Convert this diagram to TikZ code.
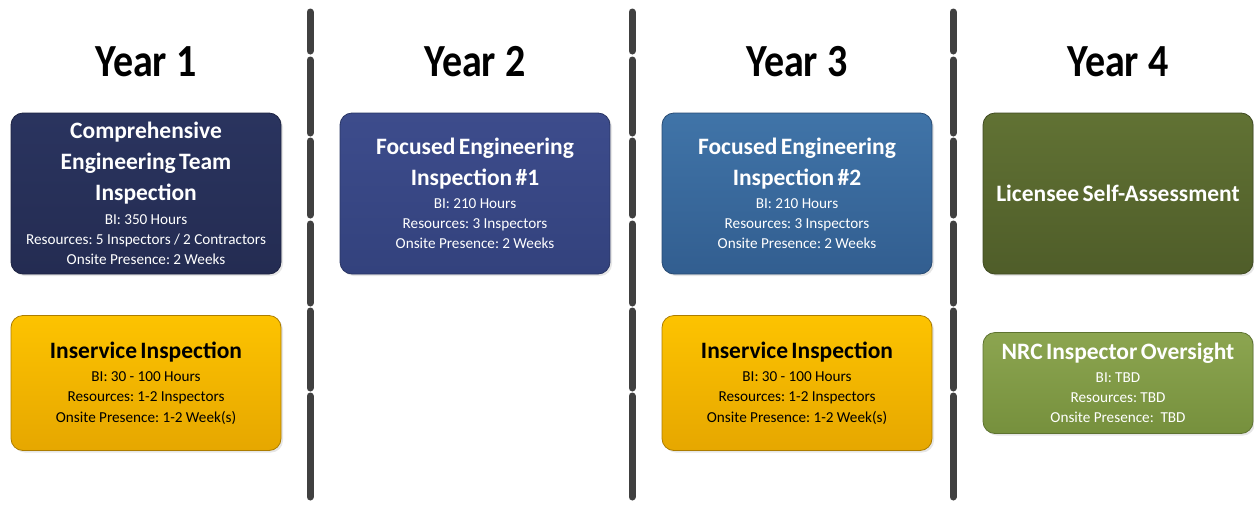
\documentclass[tikz,border=0pt]{standalone}
\usepackage{fontspec}
\setmainfont{Carlito}
\newfontfamily\yearfont[FakeStretch=0.87]{Carlito}
\usetikzlibrary{shadows}

% fills of the cards
\definecolor{navytop}{HTML}{2A345F}
\definecolor{navybot}{HTML}{242C52}
\definecolor{indigotop}{HTML}{3D4C8C}
\definecolor{indigobot}{HTML}{33427D}
\definecolor{steeltop}{HTML}{4074A8}
\definecolor{steelbot}{HTML}{325E90}
\definecolor{goldtop}{HTML}{FDC300}
\definecolor{goldbot}{HTML}{E6A700}
\definecolor{olivetop}{HTML}{617234}
\definecolor{olivebot}{HTML}{4F5D29}
\definecolor{leaftop}{HTML}{8CA550}
\definecolor{leafbot}{HTML}{76903D}
\definecolor{divider}{HTML}{404040}

\frenchspacing
\newcommand\cardhead{\fontsize{23.5}{31}\selectfont\bfseries}
\newcommand\cardtext{\vskip3pt\fontsize{15.2}{20.2}\selectfont}

\begin{document}
\begin{tikzpicture}[x=1pt, y=-1pt,
  year/.style={font=\yearfont\fontsize{46}{50}\selectfont\bfseries},
  card/.style={rounded corners=12pt, minimum width=270pt, text width=262pt,
    inner xsep=2pt, align=center, line width=0.8pt,
    drop shadow={shadow xshift=2pt, shadow yshift=-2pt, opacity=0.2}},
  navy/.style={card, top color=navytop, bottom color=navybot, draw=navybot!80!black, text=white},
  indigo/.style={card, top color=indigotop, bottom color=indigobot, draw=indigobot!80!black, text=white},
  steel/.style={card, top color=steeltop, bottom color=steelbot, draw=steelbot!80!black, text=white},
  gold/.style={card, top color=goldtop, bottom color=goldbot, draw=goldbot!75!black, text=black},
  olive/.style={card, top color=olivetop, bottom color=olivebot, draw=olivebot!80!black, text=white},
  leaf/.style={card, top color=leaftop, bottom color=leafbot, draw=leafbot!80!black, text=white},
  divline/.style={draw=divider, line width=7pt, line cap=round}]
\useasboundingbox (0,0) rectangle (1254,504);

% column dividers
\foreach \x in {310,632,953}
  \foreach \a/\b in {12/51,60/133,141/215,224/303,311/388,396/497}
    \draw[divline] (\x,\a) -- (\x,\b);

% headings
\node[year] (y1) at (146,62) {Year 1};
\node[year] (y2) at (475,62) {Year 2};
\node[year] (y3) at (797,62) {Year 3};
\node[year] (y4) at (1118,62) {Year 4};

% year 1
\node[navy, minimum height=161pt] (cet) at (146,193.5)
  {{\cardhead Comprehensive\par Engineering Team\par Inspection\par}
   {\cardtext BI: 350 Hours\par Resources: 5 Inspectors / 2 Contractors\par Onsite Presence: 2 Weeks\par}};
\node[gold, minimum height=135pt] (isi1) at (146,383)
  {{\cardhead Inservice Inspection\par}
   {\cardtext BI: 30 - 100 Hours\par Resources: 1-2 Inspectors\par Onsite Presence: 1-2 Week(s)\par}};

% year 2
\node[indigo, minimum height=161pt] (fei1) at (475,193.5)
  {{\cardhead Focused Engineering\par Inspection \#1\par}
   {\cardtext BI: 210 Hours\par Resources: 3 Inspectors\par Onsite Presence: 2 Weeks\par}};

% year 3
\node[steel, minimum height=161pt] (fei2) at (797,193.5)
  {{\cardhead Focused Engineering\par Inspection \#2\par}
   {\cardtext BI: 210 Hours\par Resources: 3 Inspectors\par Onsite Presence: 2 Weeks\par}};
\node[gold, minimum height=135pt] (isi3) at (797,383)
  {{\cardhead Inservice Inspection\par}
   {\cardtext BI: 30 - 100 Hours\par Resources: 1-2 Inspectors\par Onsite Presence: 1-2 Week(s)\par}};

% year 4
\node[olive, minimum height=161pt] (lsa) at (1118,193.5)
  {\cardhead Licensee Self-Assessment};
\node[leaf, minimum height=101pt] (nrc) at (1118,383)
  {{\cardhead NRC Inspector Oversight\par}
   {\cardtext BI: TBD\par Resources: TBD\par Onsite Presence:\ \ TBD\par}};
\end{tikzpicture}
\end{document}
